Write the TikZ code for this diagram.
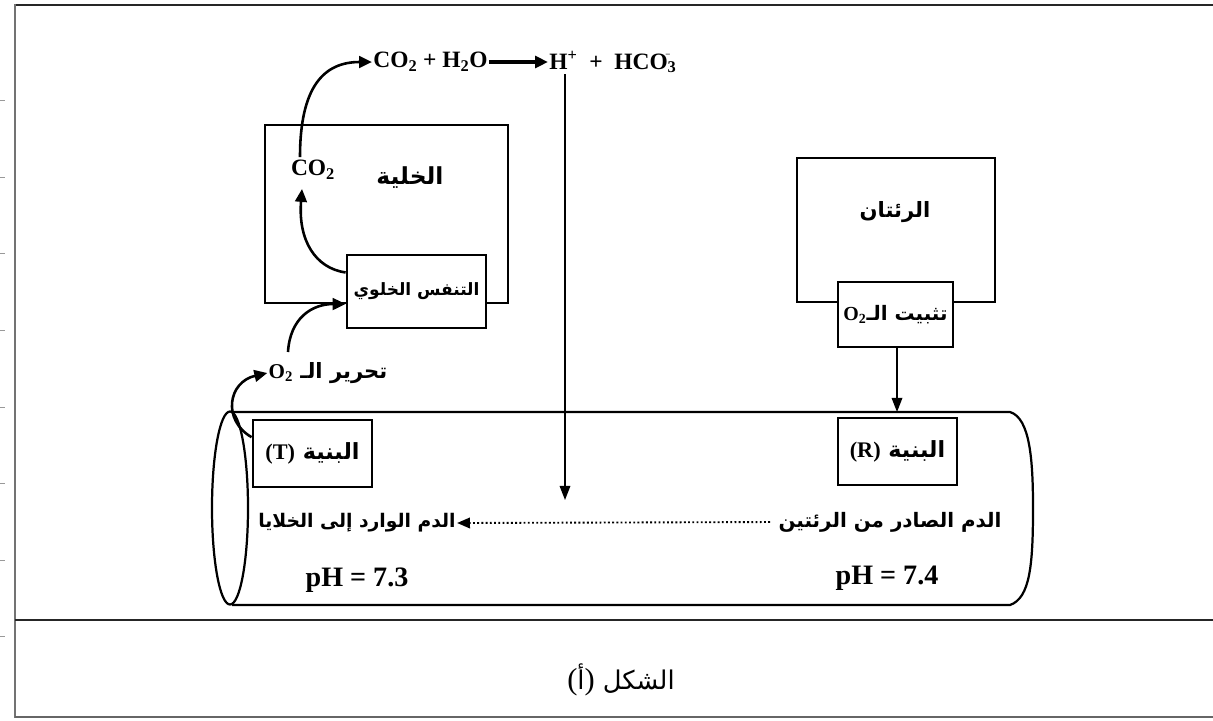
\documentclass[tikz,border=0pt]{standalone}
\usepackage{fontspec}
\usepackage{graphicx}
\setmainfont{Liberation Serif}
\newfontfamily\ar[Script=Arabic]{DejaVu Sans}
\TeXXeTstate=1
\usetikzlibrary{arrows.meta,calc}
\newcommand{\AR}[1]{{\ar\bfseries\beginR #1\endR}}
\begin{document}
\begin{tikzpicture}[x=0.03cm,y=-0.03cm,
  box/.style={draw,line width=2.4pt,fill=white,inner sep=0pt,align=center},
  lat/.style={font=\fontsize{20}{24}\selectfont\bfseries,inner sep=1pt},
  arab/.style={font=\fontsize{16}{19}\selectfont,inner sep=1pt},
  arr/.style={line width=2.2pt,-{Triangle[length=11pt,width=10pt]}},
  thin arr/.style={line width=1.3pt,-{Triangle[length=12pt,width=9pt]}},
  frame/.style={line width=2.5pt},
  tube/.style={line width=1.9pt}]
\useasboundingbox (0,0) rectangle (1213,720);
% frame
\draw[frame,black!85] (15,5) -- (1216,5);
\draw[frame,black!55] (15,4) -- (15,718);
\draw[frame,black!60] (15,717) -- (1216,717);
\draw[frame,black!85] (15,620) -- (1216,620);
\foreach \yy in {100,177,253,330,407,483,560,636} \draw[black!40,line width=0.8pt] (0,\yy) -- (5,\yy);
% cylinder
\draw[tube] (232,412) -- (1010,412) .. controls (1030,418) and (1033,460) .. (1033,508)
  .. controls (1033,565) and (1030,598) .. (1010,605) -- (232,605);
\draw[tube] (230,508) ellipse [x radius=18, y radius=96.5];
% cell
\node[box,minimum width=7.29cm,minimum height=5.34cm] (cell) at (386.5,214) {};
\node[box,font=\fontsize{14.5}{17}\selectfont,minimum width=4.17cm,minimum height=2.19cm] (resp) at (416.5,291.5) {\AR{التنفس الخلوي}};
\node[lat] (co2) at (313,170) {CO\textsubscript{2}};
\node[font=\fontsize{20}{24}\selectfont] (celllab) at (410,178) {\AR{الخلية}};
% lungs
\node[box,minimum width=5.94cm,minimum height=4.32cm] (lung) at (896,230) {};
\node[font=\fontsize{18}{21}\selectfont] (lunglab) at (895,212) {\AR{الرئتان}};
\node[box,font=\fontsize{17}{20}\selectfont,minimum width=3.45cm,minimum height=1.95cm] (fix) at (895.5,314.5) {\AR{تثبيت الـ\beginL{\rmfamily O\textsubscript{2}}\endL}};
% T and R boxes
\node[box,font=\fontsize{19}{22}\selectfont,minimum width=3.57cm,minimum height=2.01cm] (T) at (312.5,453.5) {\AR{البنية \beginL{\rmfamily(T)}\endL}};
\node[box,font=\fontsize{19}{22}\selectfont,minimum width=3.57cm,minimum height=2.01cm] (R) at (897.5,451.5) {\AR{البنية \beginL{\rmfamily(R)}\endL}};
% equation
\node[lat,anchor=east] (eq1) at (489,62) {CO\textsubscript{2} + H\textsubscript{2}O};
\node[lat,anchor=west] (eq2) at (548,62) {H\textsuperscript{+}\enspace+\enspace HCO\textsubscript{3}\kern-0.45em\raisebox{0.55em}{\scriptsize --}};
\draw[arr,line width=2.8pt] (eq1.east) -- (eq2.west);
% labels
\node[font=\fontsize{18}{21}\selectfont,inner sep=1pt] (o2) at (328,373) {\AR{تحرير الـ \beginL{\rmfamily O\textsubscript{2}}\endL}};
\node[arab] (bloodT) at (357,523) {\AR{الدم الوارد إلى الخلايا}};
\node[lat,font=\fontsize{24}{28}\selectfont\bfseries] (pHT) at (357,580) {pH = 7.3};
\node[font=\fontsize{17}{20}\selectfont,inner sep=1pt] (bloodR) at (890,522) {\AR{الدم الصادر من الرئتين}};
\node[lat,font=\fontsize{24}{28}\selectfont\bfseries] (pHR) at (887,578) {pH = 7.4};
\node[font=\fontsize{22}{26}\selectfont] (cap) at (621,680) {{\ar\beginR الشكل \beginL{\rmfamily\fontsize{26}{28}\selectfont(}أ{\rmfamily\fontsize{26}{28}\selectfont)}\endL\endR}};
% connectors
\coordinate (vend) at (565,500);
\coordinate (rtop) at (897,412);
\draw[arr] (resp.165) .. controls (315,268) and (298,240) .. ($(co2.south)+(-11,8)$);
\draw[arr] ($(co2.north)+(-13,-2)$) .. controls (300,85) and (325,62) .. (eq1.west);
\draw[arr] (288,352) .. controls (290,318) and (312,304) .. (resp.190);
\draw[arr] (T.165) .. controls (222,420) and (228,382) .. (o2.west);
\draw[thin arr] (vend |- eq2.south) -- (vend);
\draw[thin arr] (fix.south -| rtop) -- (rtop);
\draw[line width=1.6pt,dotted,-{Triangle[length=11pt,width=9pt]},shorten <=6pt] (bloodR.west) -- (bloodT.east);
\end{tikzpicture}
\end{document}
